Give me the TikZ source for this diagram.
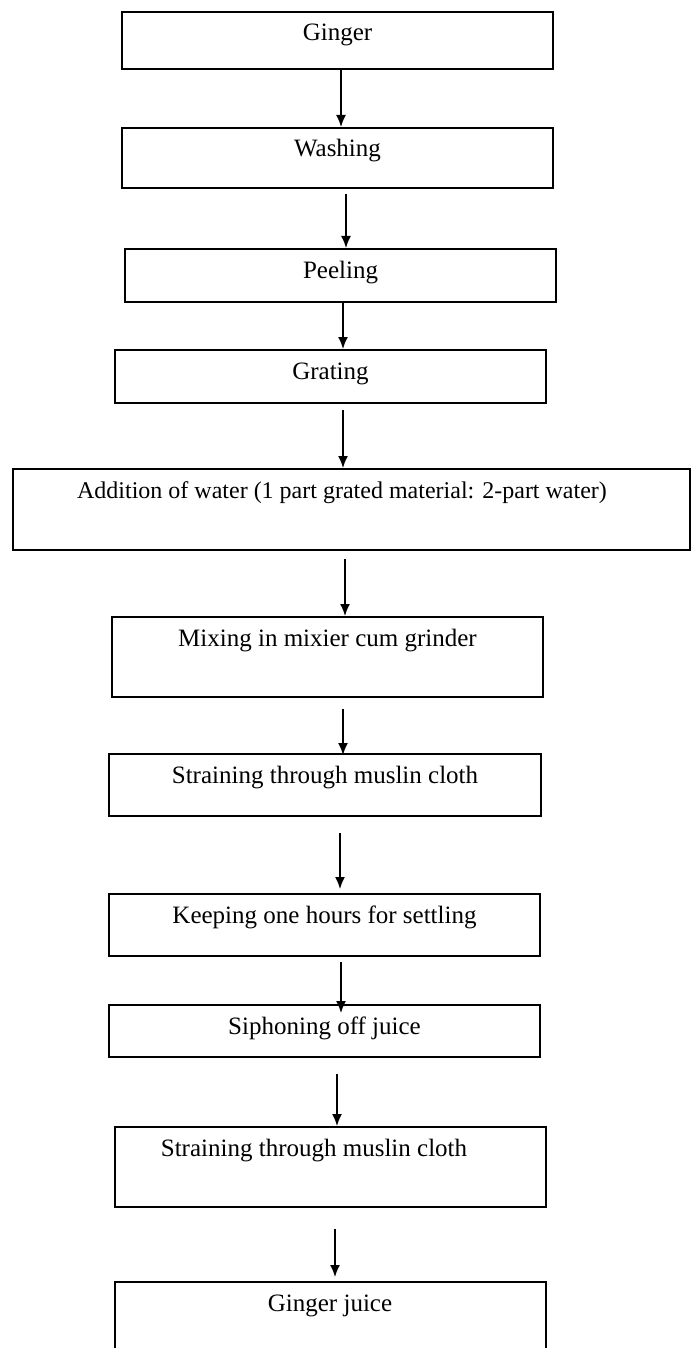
\documentclass[tikz,border=0pt]{standalone}
\usepackage{fontspec}
\setmainfont{Liberation Serif}
\usetikzlibrary{arrows.meta}

\begin{document}
\begin{tikzpicture}[
    x=1pt,y=-1pt,
    stepbox/.style={draw,line width=2pt,rectangle,inner sep=0pt,anchor=north,minimum width=431pt,text height=29pt,text depth=#1,font=\fontsize{25}{30}\selectfont},
    arr/.style={-{Latex[length=12pt,width=10pt]},line width=1.6pt}
  ]
    \useasboundingbox (0,0) rectangle (691,1348);
    \node[stepbox=28pt] (ginger) at (337.5,11) {Ginger};
    \node[stepbox=31pt] (wash) at (337.5,127) {Washing};
    \node[stepbox=24pt] (peel) at (340.5,248) {Peeling};
    \node[stepbox=24pt] (grate) at (330.5,349) {Grating};
    \node[stepbox=52pt,minimum width=677pt,font=\fontsize{24}{29}\selectfont] (water) at (351.5,468) {Addition of water (1 part grated material: 2-part water)\hspace*{19pt}};
    \node[stepbox=51pt] (mix) at (327.5,616) {Mixing in mixier cum grinder};
    \node[stepbox=33pt,minimum width=432pt] (strain) at (325,753) {Straining through muslin cloth};
    \node[stepbox=33pt] (settle) at (324.5,893) {Keeping one hours for settling};
    \node[stepbox=23pt] (siphon) at (324.5,1004) {Siphoning off juice};
    \node[stepbox=51pt] (strainb) at (330,1126) {Straining through muslin cloth\hspace*{32pt}};
    \node[stepbox=60pt] (juice) at (330,1281) {Ginger juice};

    \draw[arr] (ginger.south -| 341,0) -- (wash.north -| 341,0);
    \draw[arr,shorten <=5pt] (wash.south -| 346,0) -- (peel.north -| 346,0);
    \draw[arr] (peel.south -| 343,0) -- (grate.north -| 343,0);
    \draw[arr,shorten <=6pt] (grate.south -| 343,0) -- (water.north -| 343,0);
    \draw[arr,shorten <=8pt] (water.south -| 345,0) -- (mix.north -| 345,0);
    \draw[arr,shorten <=11pt,shorten >=-2pt] (mix.south -| 343,0) -- (strain.north -| 343,0);
    \draw[arr,shorten <=16pt,shorten >=4pt] (strain.south -| 340,0) -- (settle.north -| 340,0);
    \draw[arr,shorten <=5pt,shorten >=-9pt] (settle.south -| 341,0) -- (siphon.north -| 341,0);
    \draw[arr,shorten <=16pt] (siphon.south -| 337,0) -- (strainb.north -| 337,0);
    \draw[arr,shorten <=21pt,shorten >=4pt] (strainb.south -| 335,0) -- (juice.north -| 335,0);
\end{tikzpicture}
\end{document}
